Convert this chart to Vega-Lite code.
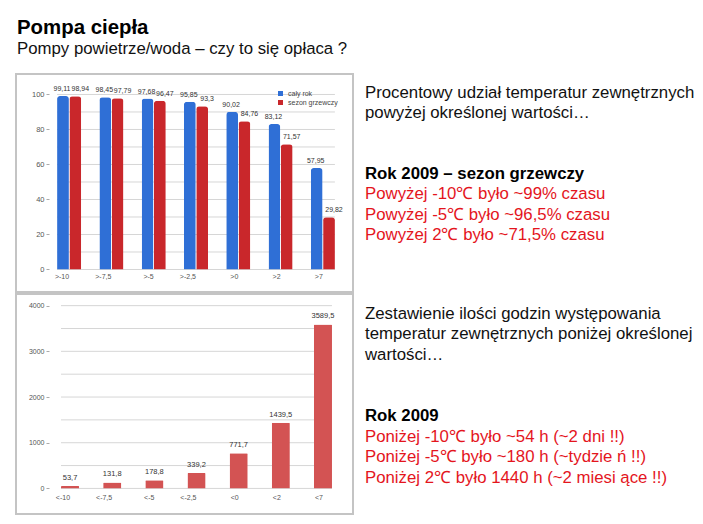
{
  "$schema": "https://vega.github.io/schema/vega-lite/v6.json",
  "background": "white",
  "padding": {"left": 15, "top": 17, "right": 5, "bottom": 5},
  "config": {
    "font": "Liberation Sans",
    "locale": {"number": {"decimal": ",", "thousands": " ", "grouping": [3], "currency": ["", " zł"]}},
    "view": {"stroke": "#c4c4c4", "strokeWidth": 2}
  },
  "title": {
    "text": "Pompa ciepła",
    "subtitle": "Pompy powietrze/woda – czy to się opłaca ?",
    "anchor": "start",
    "fontSize": 20.4,
    "fontWeight": "bold",
    "color": "#000000",
    "subtitleFontSize": 16.8,
    "subtitleColor": "#111111",
    "subtitlePadding": 3,
    "offset": 15,
    "dx": 2
  },
  "datasets": {
    "procent": [
      {"prog": ">-10", "seria": "cały rok", "wartosc": 99.11},
      {"prog": ">-10", "seria": "sezon grzewczy", "wartosc": 98.94},
      {"prog": ">-7,5", "seria": "cały rok", "wartosc": 98.45},
      {"prog": ">-7,5", "seria": "sezon grzewczy", "wartosc": 97.79},
      {"prog": ">-5", "seria": "cały rok", "wartosc": 97.68},
      {"prog": ">-5", "seria": "sezon grzewczy", "wartosc": 96.47},
      {"prog": ">-2,5", "seria": "cały rok", "wartosc": 95.85},
      {"prog": ">-2,5", "seria": "sezon grzewczy", "wartosc": 93.3},
      {"prog": ">0", "seria": "cały rok", "wartosc": 90.02},
      {"prog": ">0", "seria": "sezon grzewczy", "wartosc": 84.76},
      {"prog": ">2", "seria": "cały rok", "wartosc": 83.12},
      {"prog": ">2", "seria": "sezon grzewczy", "wartosc": 71.57},
      {"prog": ">7", "seria": "cały rok", "wartosc": 57.95},
      {"prog": ">7", "seria": "sezon grzewczy", "wartosc": 29.82}
    ],
    "godziny": [
      {"prog": "<-10", "godz": 53.7},
      {"prog": "<-7,5", "godz": 131.8},
      {"prog": "<-5", "godz": 178.8},
      {"prog": "<-2,5", "godz": 339.2},
      {"prog": "<0", "godz": 771.7},
      {"prog": "<2", "godz": 1439.5},
      {"prog": "<7", "godz": 3589.5}
    ],
    "siatka1": [
      {"g": 0}, {"g": 10}, {"g": 20}, {"g": 30}, {"g": 40}, {"g": 50},
      {"g": 60}, {"g": 70}, {"g": 80}, {"g": 90}, {"g": 100}
    ],
    "siatka2": [
      {"g": 0}, {"g": 500}, {"g": 1000}, {"g": 1500}, {"g": 2000},
      {"g": 2500}, {"g": 3000}, {"g": 3500}, {"g": 4000}
    ],
    "tekst1": [
      {"wiersz": 0, "styl": "normal", "tekst": "Procentowy udział temperatur zewnętrznych"},
      {"wiersz": 1, "styl": "normal", "tekst": "powyżej określonej wartości…"},
      {"wiersz": 4, "styl": "bold", "tekst": "Rok 2009 – sezon grzewczy"},
      {"wiersz": 5, "styl": "red", "tekst": "Powyżej -10℃ było ~99% czasu"},
      {"wiersz": 6, "styl": "red", "tekst": "Powyżej -5℃ było ~96,5% czasu"},
      {"wiersz": 7, "styl": "red", "tekst": "Powyżej 2℃ było ~71,5% czasu"}
    ],
    "tekst2": [
      {"wiersz": 0, "styl": "normal", "tekst": "Zestawienie ilości godzin występowania"},
      {"wiersz": 1, "styl": "normal", "tekst": "temperatur zewnętrznych poniżej określonej"},
      {"wiersz": 2, "styl": "normal", "tekst": "wartości…"},
      {"wiersz": 5, "styl": "bold", "tekst": "Rok 2009"},
      {"wiersz": 6, "styl": "red", "tekst": "Poniżej -10℃ było ~54 h (~2 dni !!)"},
      {"wiersz": 7, "styl": "red", "tekst": "Poniżej -5℃ było ~180 h (~tydzie ń !!)"},
      {"wiersz": 8, "styl": "red", "tekst": "Poniżej 2℃ było 1440 h (~2 miesi ące !!)"}
    ]
  },
  "spacing": 0,
  "resolve": {"scale": {"color": "independent", "x": "independent", "y": "independent"}, "legend": {"color": "independent"}},
  "vconcat": [
    {
      "spacing": 11,
      "resolve": {"scale": {"color": "independent", "x": "independent", "y": "independent"}, "legend": {"color": "independent"}},
      "hconcat": [
        {
          "width": 337,
          "height": 218,
          "layer": [
            {
              "data": {"name": "siatka1"},
              "mark": {"type": "rule", "color": "#d6d6d6", "strokeWidth": 1},
              "encoding": {
                "y": {"field": "g", "type": "quantitative"},
                "x": {"datum": ">-10", "bandPosition": 0},
                "x2": {"datum": ">7", "bandPosition": 1}
              }
            },
            {
              "data": {"name": "procent"},
              "mark": {"type": "bar", "cornerRadiusEnd": 3},
              "encoding": {
                "x": {
                  "field": "prog", "type": "nominal", "sort": null,
                  "scale": {"domain": [">-10", ">-7,5", ">-5", ">-2,5", ">0", ">2", ">7"], "range": [32, 328], "paddingInner": 0.43, "paddingOuter": 0.215},
                  "axis": {"title": null, "offset": -18, "domain": false, "ticks": false, "labelPadding": 2, "labelFontSize": 7, "labelColor": "#555555", "labelAngle": 0}
                },
                "xOffset": {"field": "seria", "sort": ["cały rok", "sezon grzewczy"], "scale": {"paddingInner": 0.04}},
                "y": {
                  "field": "wartosc", "type": "quantitative",
                  "scale": {"domain": [-12.86, 111.7], "nice": false, "zero": false},
                  "axis": {"title": null, "values": [0, 10, 20, 30, 40, 50, 60, 70, 80, 90, 100], "format": "d", "offset": -33, "grid": false, "domain": false, "tickSize": 3, "tickColor": "#aaaaaa", "labelPadding": 2, "labelFontSize": 7.5, "labelColor": "#555555"}
                },
                "color": {
                  "field": "seria", "type": "nominal",
                  "scale": {"domain": ["cały rok", "sezon grzewczy"], "range": ["#2f6fd6", "#c9272b"]},
                  "legend": {"title": null, "orient": "none", "legendX": 261, "legendY": 16, "symbolType": "square", "symbolSize": 25, "labelFontSize": 7, "labelColor": "#444444", "rowPadding": 1, "symbolStrokeWidth": 0}
                }
              }
            },
            {
              "data": {"name": "procent"},
              "transform": [{"filter": "datum.seria == 'cały rok'"}],
              "mark": {"type": "text", "baseline": "bottom", "dy": -4, "dx": -1, "fontSize": 7, "color": "#333333"},
              "encoding": {
                "x": {"field": "prog", "type": "nominal", "sort": null},
                "xOffset": {"field": "seria", "sort": ["cały rok", "sezon grzewczy"]},
                "y": {"field": "wartosc", "type": "quantitative"},
                "text": {"field": "wartosc", "type": "quantitative", "format": "~g"}
              }
            },
            {
              "data": {"name": "procent"},
              "transform": [{"filter": "datum.seria == 'sezon grzewczy'"}],
              "mark": {"type": "text", "baseline": "bottom", "dy": -4, "dx": 5, "fontSize": 7, "color": "#333333"},
              "encoding": {
                "x": {"field": "prog", "type": "nominal", "sort": null},
                "xOffset": {"field": "seria", "sort": ["cały rok", "sezon grzewczy"]},
                "y": {"field": "wartosc", "type": "quantitative"},
                "text": {"field": "wartosc", "type": "quantitative", "format": "~g"}
              }
            }
          ]
        },
        {
          "width": 330,
          "height": 218,
          "view": {"stroke": null},
          "data": {"name": "tekst1"},
          "encoding": {
            "x": {"datum": 0, "type": "quantitative", "scale": {"domain": [0, 1]}, "axis": null},
            "y": {"field": "wiersz", "type": "quantitative", "scale": {"domain": [-1.182, 9.557], "reverse": true, "nice": false, "zero": false}, "axis": null},
            "text": {"field": "tekst"}
          },
          "layer": [
            {
              "transform": [{"filter": "datum.styl == 'normal'"}],
              "mark": {"type": "text", "align": "left", "baseline": "alphabetic", "fontSize": 16.8, "color": "#111111"}
            },
            {
              "transform": [{"filter": "datum.styl == 'red'"}],
              "mark": {"type": "text", "align": "left", "baseline": "alphabetic", "fontSize": 16.8, "color": "#e4151d"}
            },
            {
              "transform": [{"filter": "datum.styl == 'bold'"}],
              "mark": {"type": "text", "align": "left", "baseline": "alphabetic", "fontSize": 16.8, "fontWeight": "bold", "color": "#000000"}
            }
          ]
        }
      ]
    },
    {
      "spacing": 11,
      "resolve": {"scale": {"color": "independent", "x": "independent", "y": "independent"}},
      "hconcat": [
        {
          "width": 337,
          "height": 220,
          "layer": [
            {
              "data": {"name": "siatka2"},
              "mark": {"type": "rule", "color": "#d6d6d6", "strokeWidth": 1},
              "encoding": {
                "y": {"field": "g", "type": "quantitative"},
                "x": {"datum": "<-10", "bandPosition": 0},
                "x2": {"datum": "<7", "bandPosition": 1}
              }
            },
            {
              "data": {"name": "godziny"},
              "mark": {"type": "bar", "color": "#d35353", "cornerRadiusEnd": 1},
              "encoding": {
                "x": {
                  "field": "prog", "type": "nominal", "sort": null,
                  "scale": {"domain": ["<-10", "<-7,5", "<-5", "<-2,5", "<0", "<2", "<7"], "range": [33, 328], "paddingInner": 0.57, "paddingOuter": 0.285},
                  "axis": {"title": null, "offset": -19, "domain": false, "ticks": false, "labelPadding": 2, "labelFontSize": 7, "labelColor": "#555555", "labelAngle": 0}
                },
                "y": {
                  "field": "godz", "type": "quantitative",
                  "scale": {"domain": [-560, 4255], "nice": false, "zero": false},
                  "axis": {"title": null, "values": [0, 500, 1000, 1500, 2000, 2500, 3000, 3500, 4000], "format": "d", "offset": -33, "grid": false, "domain": false, "tickSize": 3, "tickColor": "#aaaaaa", "labelPadding": 2, "labelFontSize": 7, "labelColor": "#555555"}
                }
              }
            },
            {
              "data": {"name": "godziny"},
              "mark": {"type": "text", "baseline": "bottom", "dy": -4, "fontSize": 7.5, "color": "#333333"},
              "encoding": {
                "x": {"field": "prog", "type": "nominal", "sort": null},
                "y": {"field": "godz", "type": "quantitative"},
                "text": {"field": "godz", "type": "quantitative", "format": "~g"}
              }
            }
          ]
        },
        {
          "width": 330,
          "height": 220,
          "view": {"stroke": null},
          "data": {"name": "tekst2"},
          "encoding": {
            "x": {"datum": 0, "type": "quantitative", "scale": {"domain": [0, 1]}, "axis": null},
            "y": {"field": "wiersz", "type": "quantitative", "scale": {"domain": [-1.2, 9.53], "reverse": true, "nice": false, "zero": false}, "axis": null},
            "text": {"field": "tekst"}
          },
          "layer": [
            {
              "transform": [{"filter": "datum.styl == 'normal'"}],
              "mark": {"type": "text", "align": "left", "baseline": "alphabetic", "fontSize": 16.8, "color": "#111111"}
            },
            {
              "transform": [{"filter": "datum.styl == 'red'"}],
              "mark": {"type": "text", "align": "left", "baseline": "alphabetic", "fontSize": 16.8, "color": "#e4151d"}
            },
            {
              "transform": [{"filter": "datum.styl == 'bold'"}],
              "mark": {"type": "text", "align": "left", "baseline": "alphabetic", "fontSize": 16.8, "fontWeight": "bold", "color": "#000000"}
            }
          ]
        }
      ]
    }
  ]
}
